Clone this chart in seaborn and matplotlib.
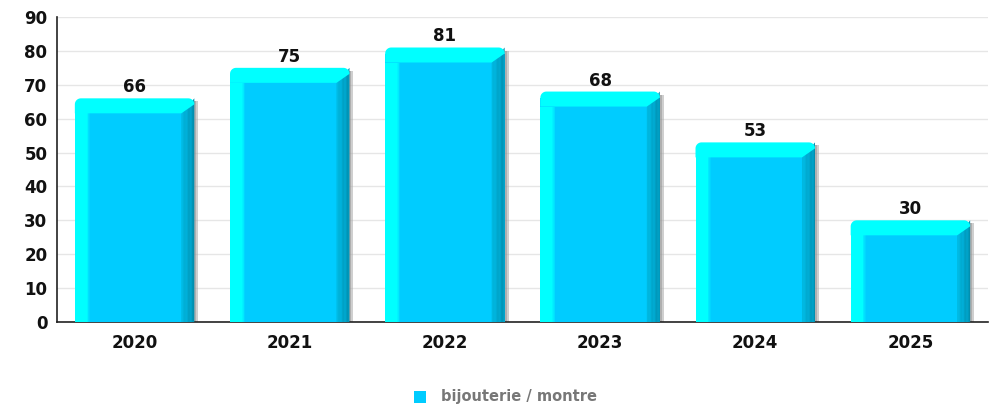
import numpy as np
import pandas as pd
import matplotlib
matplotlib.use("Agg")
import matplotlib.pyplot as plt
from matplotlib.colors import to_rgb
from matplotlib.patches import Polygon, Rectangle
from matplotlib.ticker import FixedLocator
import seaborn as sns

years = ["2020", "2021", "2022", "2023", "2024", "2025"]
values = [66, 75, 81, 68, 53, 30]
series_name = "bijouterie / montre"

sns.set_style("white")
plt.rcParams["font.family"] = ["DejaVu Sans"]

df = pd.DataFrame({"year": years, "value": values})

W, H = 998, 408
fig = plt.figure(figsize=(W / 100, H / 100), dpi=100)
ax = fig.add_axes([57 / W, 1 - 322 / H, 931 / W, 305 / H])

face = "#00CCFF"
light = "#00FFFF"
sns.barplot(data=df, x="year", y="value", color=face, width=0.77,
            saturation=1, edgecolor="none", linewidth=0, ax=ax, zorder=3)

ax.set_xlim(-0.5, len(years) - 0.5)
ax.set_ylim(0, 90)
ax.set_yticks(np.arange(0, 91, 10))
ax.yaxis.grid(True, color="#e6e6e6", linewidth=1, zorder=0)
ax.set_axisbelow(True)
ax.set_xlabel("")
ax.set_ylabel("")

for s in ("top", "right"):
    ax.spines[s].set_visible(False)
for s in ("left", "bottom"):
    ax.spines[s].set_color("#222222")
    ax.spines[s].set_linewidth(1.2)

ax.tick_params(axis="y", direction="out", length=4, width=1, color="#222222",
               labelsize=12, pad=3)
ax.tick_params(axis="x", which="major", length=0, labelsize=12, pad=9)
ax.xaxis.set_minor_locator(FixedLocator(np.arange(-0.5, len(years), 1.0)))
ax.tick_params(axis="x", which="minor", direction="out", length=5, width=1,
               color="#222222")
for lab in ax.get_xticklabels() + ax.get_yticklabels():
    lab.set_fontweight("bold")
    lab.set_color("#111111")


def blend(a, b, t):
    a, b = to_rgb(a), to_rgb(b)
    return tuple(a[k] * (1 - t) + b[k] * t for k in range(3))


# pixel -> data conversion for the bevel decoration
pxx = len(years) / 931.0
pxy = 90.0 / 305.0

bars = list(ax.patches)
for p in bars:
    x0, w, h = p.get_x(), p.get_width(), p.get_height()
    x1 = x0 + w
    bev_l, bev_t, bev_r = 15 * pxx, 15 * pxy, 13 * pxx
    # drop shadow on the right
    ax.add_patch(Rectangle((x1, 0), 4 * pxx, h - 3 * pxy, facecolor="#a8a8a8",
                           edgecolor="none", alpha=0.55, zorder=2))
    ax.add_patch(Rectangle((x1, 0), 2 * pxx, h - 3 * pxy, facecolor="#909090",
                           edgecolor="none", alpha=0.5, zorder=2))
    # left highlight strip, softening into the face
    ax.add_patch(Rectangle((x0, 0), bev_l - 3 * pxx, h - bev_t, facecolor=light,
                           edgecolor="none", zorder=4))
    n = 4
    for i in range(n):
        xa = x0 + bev_l - 3 * pxx + 3 * pxx * i / n
        ax.add_patch(Rectangle((xa, 0), 3 * pxx / n, h - bev_t,
                               facecolor=blend(light, face, (i + 1) / (n + 1)),
                               edgecolor="none", zorder=4))
    # right shaded strip with gradient
    n = 10
    for i in range(n):
        col = blend("#00B8E0", "#008FB0", i / (n - 1))
        xa = x1 - bev_r + bev_r * i / n
        xb = xa + bev_r / n
        ya = h - bev_t + (xa - (x1 - bev_r)) / bev_r * bev_t
        yb = h - bev_t + (xb - (x1 - bev_r)) / bev_r * bev_t
        ax.add_patch(Polygon([(xa, 0), (xb, 0), (xb, yb), (xa, ya)],
                             closed=True, facecolor=col, edgecolor="none", zorder=4))
    # top highlight band with rounded outer corners
    rx, ry = 6 * pxx, 6 * pxy
    ang = np.linspace(0, np.pi / 2, 10)
    pts = [(x0, h - ry)]
    pts += [(x0 + rx - rx * np.cos(a), h - ry + ry * np.sin(a)) for a in ang]
    pts += [(x1 - rx + rx * np.sin(a), h - ry + ry * np.cos(a)) for a in ang]
    pts += [(x1, h - ry), (x1 - bev_r, h - bev_t), (x0 + bev_l, h - bev_t),
            (x0, h - bev_t)]
    ax.add_patch(Polygon(pts, closed=True, facecolor=light, edgecolor="none", zorder=5))
    # shorten the base bar so its square corners stay under the rounded band
    p.set_height(h - ry)

for p, v in zip(bars, values):
    ax.text(p.get_x() + p.get_width() / 2, v + 0.6, f"{v}", ha="center", va="bottom",
            fontsize=12, fontweight="bold", color="#111111", zorder=6)

# legend
fig.patches.append(Rectangle((414 / W, 1 - 403 / H), 12 / W, 12 / H,
                             transform=fig.transFigure, facecolor=face,
                             edgecolor="none"))
fig.text(441 / W, 1 - 396 / H, series_name, ha="left", va="center",
         fontsize=10.5, fontweight="bold", color="#777777")

fig.savefig("out.png", dpi=100, facecolor="white")
